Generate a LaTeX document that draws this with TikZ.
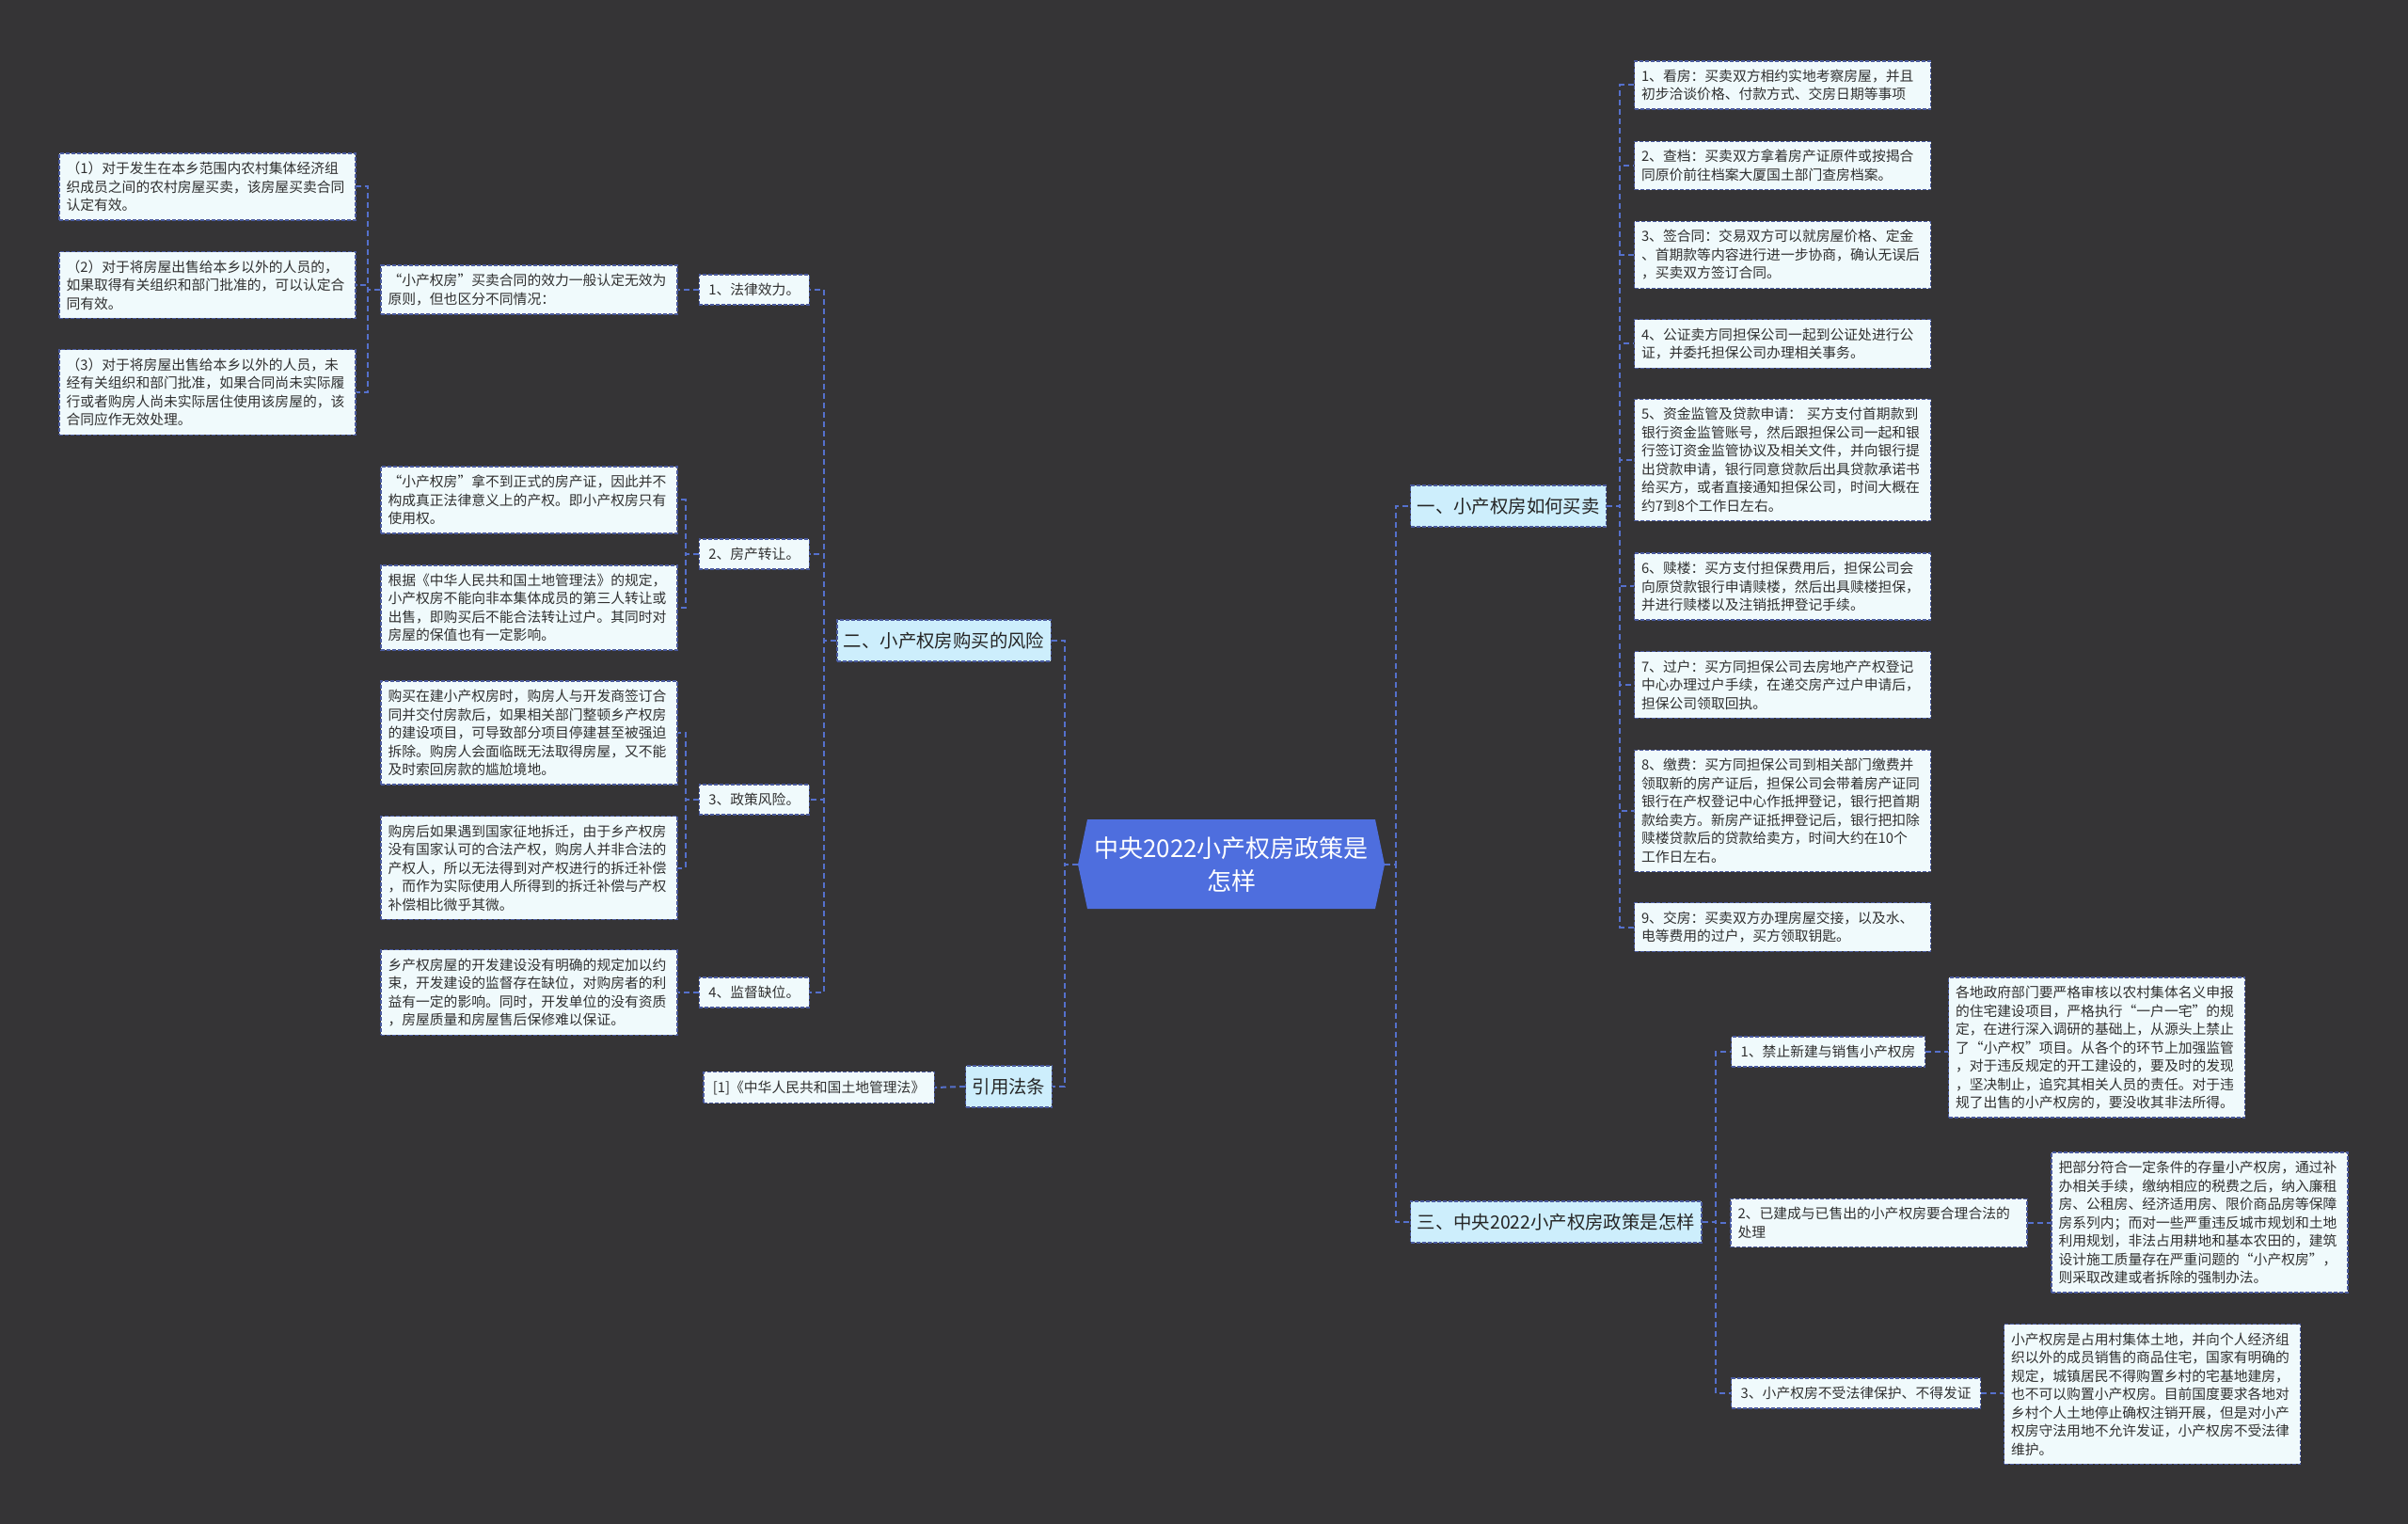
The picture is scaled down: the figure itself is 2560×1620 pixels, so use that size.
\documentclass[tikz,border=0pt]{standalone}
\usepackage{fontspec}
\setmainfont{Noto Sans CJK SC}
\definecolor{bgdark}{HTML}{353436}
\definecolor{rootblue}{HTML}{4E6EDE}
\definecolor{linkblue}{HTML}{5570CC}
\definecolor{boxline}{HTML}{4A5A9E}
\definecolor{leaffill}{HTML}{F0FAFC}
\definecolor{branchfill}{HTML}{CDEEFC}
\definecolor{leaftext}{HTML}{303030}

\begin{document}
\begin{tikzpicture}[x=0.5pt,y=-0.5pt,
  link/.style={draw=linkblue, line width=1pt, dash pattern=on 3pt off 2pt},
  boxbase/.style={draw=boxline, line width=0.7pt, dash pattern=on 2pt off 1pt, text=leaftext},
  leaf/.style={boxbase, fill=leaffill, font=\fontsize{7.4pt}{9.75pt}\selectfont, align=left, text width=150pt, inner xsep=3.75pt, inner ysep=4.5pt},
  tag/.style={boxbase, fill=leaffill, font=\fontsize{7.4pt}{9.75pt}\selectfont, inner xsep=5pt, inner ysep=4.5pt},
  branch/.style={boxbase, fill=branchfill, text=black!85, font=\fontsize{9.7pt}{12pt}\selectfont, inner xsep=3.5pt, minimum height=22pt},
  root/.style={text=white, align=center, font=\fontsize{13pt}{17.5pt}\selectfont, minimum width=163pt, minimum height=47pt, inner sep=0pt}]
 \useasboundingbox (0,0) rectangle (2560,1620);
 \fill[bgdark] (0,0) rectangle (2560,1620);

 \fill[rootblue] (1146,919) -- (1156,871) -- (1462,871) -- (1472,919) -- (1462,966) -- (1156,966) -- cycle;
 \node[root] (root) at (1309,919) {中央2022小产权房政策是\\怎样};

 \node[branch,anchor=west] (buy) at (1499,538) {一、小产权房如何买卖};
 \node[branch,anchor=east] (risk) at (1118,681) {二、小产权房购买的风险};
 \node[branch,anchor=west] (policy) at (1499,1299) {三、中央2022小产权房政策是怎样};
 \node[branch,anchor=east] (cite) at (1119,1155) {引用法条};

 \node[leaf] (buy1) at (1895,90.5) {1、看房：买卖双方相约实地考察房屋，并且\\初步洽谈价格、付款方式、交房日期等事项};
 \node[leaf] (buy2) at (1895,176) {2、查档：买卖双方拿着房产证原件或按揭合\\同原价前往档案大厦国土部门查房档案。};
 \node[leaf] (buy3) at (1895,271) {3、签合同：交易双方可以就房屋价格、定金\\、首期款等内容进行进一步协商，确认无误后\\，买卖双方签订合同。};
 \node[leaf] (buy4) at (1895,365.5) {4、公证卖方同担保公司一起到公证处进行公\\证，并委托担保公司办理相关事务。};
 \node[leaf] (buy5) at (1895,489) {5、资金监管及贷款申请： 买方支付首期款到\\银行资金监管账号，然后跟担保公司一起和银\\行签订资金监管协议及相关文件，并向银行提\\出贷款申请，银行同意贷款后出具贷款承诺书\\给买方，或者直接通知担保公司，时间大概在\\约7到8个工作日左右。};
 \node[leaf] (buy6) at (1895,623.5) {6、赎楼：买方支付担保费用后，担保公司会\\向原贷款银行申请赎楼，然后出具赎楼担保，\\并进行赎楼以及注销抵押登记手续。};
 \node[leaf] (buy7) at (1895,728) {7、过户：买方同担保公司去房地产产权登记\\中心办理过户手续，在递交房产过户申请后，\\担保公司领取回执。};
 \node[leaf] (buy8) at (1895,862) {8、缴费：买方同担保公司到相关部门缴费并\\领取新的房产证后，担保公司会带着房产证同\\银行在产权登记中心作抵押登记，银行把首期\\款给卖方。新房产证抵押登记后，银行把扣除\\赎楼贷款后的贷款给卖方，时间大约在10个\\工作日左右。};
 \node[leaf] (buy9) at (1895,985.5) {9、交房：买卖双方办理房屋交接，以及水、\\电等费用的过户，买方领取钥匙。};

 \node[tag,anchor=east] (law) at (861,308) {1、法律效力。};
 \node[tag,anchor=east] (transfer) at (861,589) {2、房产转让。};
 \node[tag,anchor=east] (policyrisk) at (861,850) {3、政策风险。};
 \node[tag,anchor=east] (supervise) at (861,1055) {4、监督缺位。};

 \node[leaf] (lawnote) at (562.5,308) {“小产权房”买卖合同的效力一般认定无效为\\原则，但也区分不同情况：};
 \node[leaf] (law1) at (220.5,198.5) {（1）对于发生在本乡范围内农村集体经济组\\织成员之间的农村房屋买卖，该房屋买卖合同\\认定有效。};
 \node[leaf] (law2) at (220.5,303) {（2）对于将房屋出售给本乡以外的人员的，\\如果取得有关组织和部门批准的，可以认定合\\同有效。};
 \node[leaf] (law3) at (220.5,417) {（3）对于将房屋出售给本乡以外的人员，未\\经有关组织和部门批准，如果合同尚未实际履\\行或者购房人尚未实际居住使用该房屋的，该\\合同应作无效处理。};
 \node[leaf] (transfer1) at (562.5,531.5) {“小产权房”拿不到正式的房产证，因此并不\\构成真正法律意义上的产权。即小产权房只有\\使用权。};
 \node[leaf] (transfer2) at (562.5,646) {根据《中华人民共和国土地管理法》的规定，\\小产权房不能向非本集体成员的第三人转让或\\出售，即购买后不能合法转让过户。其同时对\\房屋的保值也有一定影响。};
 \node[leaf] (policyrisk1) at (562.5,779) {购买在建小产权房时，购房人与开发商签订合\\同并交付房款后，如果相关部门整顿乡产权房\\的建设项目，可导致部分项目停建甚至被强迫\\拆除。购房人会面临既无法取得房屋，又不能\\及时索回房款的尴尬境地。};
 \node[leaf] (policyrisk2) at (562.5,922.5) {购房后如果遇到国家征地拆迁，由于乡产权房\\没有国家认可的合法产权，购房人并非合法的\\产权人，所以无法得到对产权进行的拆迁补偿\\，而作为实际使用人所得到的拆迁补偿与产权\\补偿相比微乎其微。};
 \node[leaf] (supervise1) at (562.5,1055) {乡产权房屋的开发建设没有明确的规定加以约\\束，开发建设的监督存在缺位，对购房者的利\\益有一定的影响。同时，开发单位的没有资质\\，房屋质量和房屋售后保修难以保证。};
 \node[tag,anchor=east] (citelaw) at (994,1156) {[1]《中华人民共和国土地管理法》};

 \node[tag,anchor=west] (policy1) at (1840,1118) {1、禁止新建与销售小产权房};
 \node[leaf] (policy2) at (1997.5,1300) {2、已建成与已售出的小产权房要合理合法的\\处理};
 \node[tag,anchor=west] (policy3) at (1840,1481) {3、小产权房不受法律保护、不得发证};
 \node[leaf] (pnote1) at (2229,1113.5) {各地政府部门要严格审核以农村集体名义申报\\的住宅建设项目，严格执行“一户一宅”的规\\定，在进行深入调研的基础上，从源头上禁止\\了“小产权”项目。从各个的环节上加强监管\\，对于违反规定的开工建设的，要及时的发现\\，坚决制止，追究其相关人员的责任。对于违\\规了出售的小产权房的，要没收其非法所得。};
 \node[leaf] (pnote2) at (2338.5,1299.5) {把部分符合一定条件的存量小产权房，通过补\\办相关手续，缴纳相应的税费之后，纳入廉租\\房、公租房、经济适用房、限价商品房等保障\\房系列内；而对一些严重违反城市规划和土地\\利用规划，非法占用耕地和基本农田的，建筑\\设计施工质量存在严重问题的“小产权房”，\\则采取改建或者拆除的强制办法。};
 \node[leaf] (pnote3) at (2288,1482) {小产权房是占用村集体土地，并向个人经济组\\织以外的成员销售的商品住宅，国家有明确的\\规定，城镇居民不得购置乡村的宅基地建房，\\也不可以购置小产权房。目前国度要求各地对\\乡村个人土地停止确权注销开展，但是对小产\\权房守法用地不允许发证，小产权房不受法律\\维护。};

 \draw[link] (root.east) -- ++(12,0) |- (buy.west);
 \draw[link] (root.east) -- ++(12,0) |- (policy.west);
 \draw[link] (root.west) -- ++(-14,0) |- (risk.east);
 \draw[link] (root.west) -- ++(-14,0) |- (cite.east);
 \foreach \i in {1,...,9} \draw[link] (buy.east) -- ++(14,0) |- (buy\i.west);
 \foreach \s in {law,transfer,policyrisk,supervise} \draw[link] (risk.west) -- ++(-13,0) |- (\s.east);
 \draw[link] (law.west) -- (lawnote.east);
 \foreach \i in {1,2,3} \draw[link] (lawnote.west) -- ++(-13,0) |- (law\i.east);
 \foreach \s in {transfer,policyrisk} {
   \foreach \i in {1,2} \draw[link] (\s.west) -- ++(-14,0) |- (\s\i.east);
 }
 \draw[link] (supervise.west) -- (supervise1.east);
 \draw[link] (cite.west) -- (citelaw.east);
 \foreach \i in {1,2,3} {
   \draw[link] (policy.east) -- ++(14,0) |- (policy\i.west);
   \draw[link] (policy\i.east) -- (policy\i.east -| pnote\i.west);
 }
\end{tikzpicture}
\end{document}
